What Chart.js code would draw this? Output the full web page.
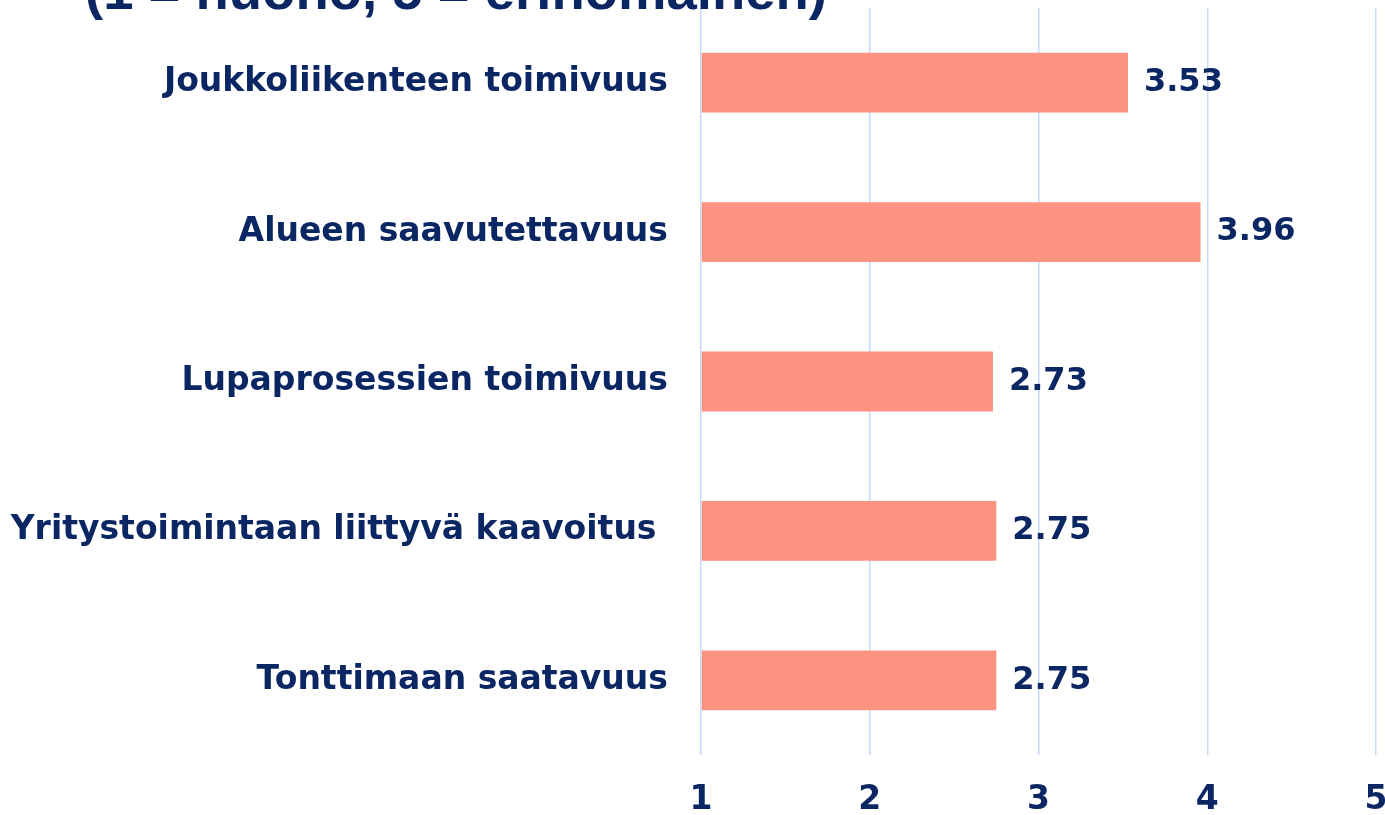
<!DOCTYPE html>
<html>
<head>
<meta charset="utf-8">
<script src="https://cdn.jsdelivr.net/npm/chart.js@4/dist/chart.umd.min.js"></script>
<style>
html,body{margin:0;padding:0;background:#fff;overflow:hidden;}
#wrap{position:absolute;left:0;top:0;width:1385px;height:815px;}
</style>
</head>
<body>
<div id="wrap"><canvas id="c" width="1385" height="815"></canvas></div>
<script>
const categories = [
  "Joukkoliikenteen toimivuus",
  "Alueen saavutettavuus",
  "Lupaprosessien toimivuus",
  "Yritystoimintaan liittyvä kaavoitus ",
  "Tonttimaan saatavuus"
];
const values = [3.53, 3.96, 2.73, 2.75, 2.75];
const xTicks = [1, 2, 3, 4, 5];
const titleText = "(1 = huono, 5 = erinomainen)";

const NAVY = "#0b2763";
const BAR = "#fc9280";
const GRID = "#c6d9fa";
const FONT = "'DejaVu Sans', 'Liberation Sans', Arial, sans-serif";

const titlePlugin = {
  id: 'cutTitle',
  afterDraw(chart) {
    const ctx = chart.ctx;
    ctx.save();
    ctx.font = "bold 54.5px 'Liberation Sans', Arial, sans-serif";
    ctx.fillStyle = NAVY;
    ctx.textAlign = 'left';
    ctx.textBaseline = 'alphabetic';
    ctx.fillText(titleText, 85, 9);
    ctx.restore();
  }
};

const valueLabels = {
  id: 'valueLabels',
  afterDatasetsDraw(chart) {
    const ctx = chart.ctx;
    const meta = chart.getDatasetMeta(0);
    ctx.save();
    ctx.font = "bold 32px " + FONT;
    ctx.fillStyle = NAVY;
    ctx.textAlign = 'left';
    ctx.textBaseline = 'middle';
    meta.data.forEach((el, i) => {
      ctx.fillText(values[i].toFixed(2), el.x + 16, el.y);
    });
    ctx.restore();
  }
};

new Chart(document.getElementById('c'), {
  type: 'bar',
  data: {
    labels: categories,
    datasets: [{
      data: values,
      backgroundColor: BAR,
      borderWidth: 0,
      categoryPercentage: 1.0,
      barPercentage: 0.4,
      base: 1
    }]
  },
  options: {
    indexAxis: 'y',
    responsive: false,
    animation: false,
    devicePixelRatio: 1,
    layout: { padding: { top: 8, right: 9, left: 0, bottom: 0 } },
    plugins: { legend: { display: false }, tooltip: { enabled: false }, title: { display: false } },
    scales: {
      x: {
        min: 1, max: 5,
        afterBuildTicks: s => { s.ticks = xTicks.map(v => ({ value: v })); },
        grid: { color: GRID, lineWidth: 1.5, drawTicks: false },
        border: { display: false },
        ticks: { color: NAVY, font: { family: FONT, size: 33, weight: 'bold' }, padding: 26, maxRotation: 0 },
        afterFit: s => { s.height = 60; s.paddingLeft = 0; s.paddingRight = 0; }
      },
      y: {
        grid: { display: false, drawTicks: false },
        border: { display: false },
        ticks: { color: NAVY, font: { family: FONT, size: 33, weight: 'bold' }, padding: 33 },
        afterFit: s => { s.width = 701; s.paddingTop = 0; s.paddingBottom = 0; }
      }
    }
  },
  plugins: [valueLabels, titlePlugin]
});
</script>
</body>
</html>
